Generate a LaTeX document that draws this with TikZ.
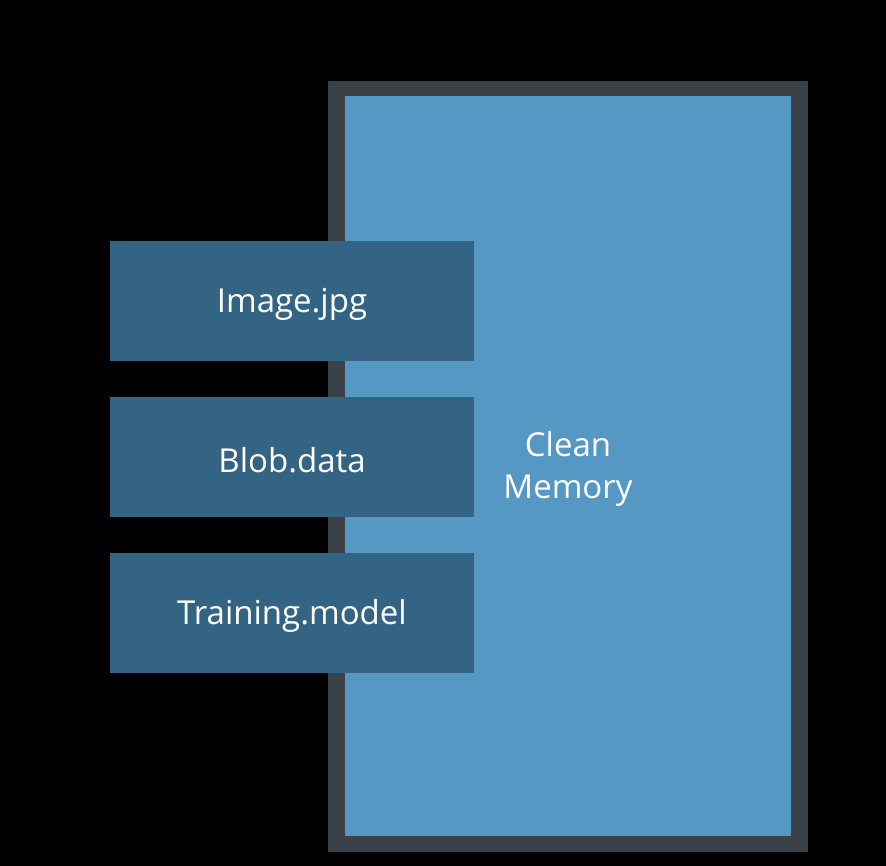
\documentclass[tikz,border=0pt]{standalone}
\usepackage{fontspec}
\setmainfont{Open Sans}
\definecolor{bordergray}{HTML}{3A4248}
\definecolor{memblue}{HTML}{5598C3}
\definecolor{filebox}{HTML}{346484}
\tikzset{
  filenode/.style={fill=filebox, draw=none, minimum width=364pt, minimum height=120pt, inner sep=0pt, text=white, font=\fontsize{33}{40}\selectfont},
}
\begin{document}
\begin{tikzpicture}[x=1pt,y=-1pt]
\fill[black] (0,0) rectangle (886,866);
\useasboundingbox (0,0) rectangle (886,866);
\fill[bordergray] (328,81) rectangle (808,852);
\fill[memblue] (345,96) rectangle (791,836);
\node[text=white, font=\fontsize{33}{42}\selectfont, align=center] (mem) at (568,469) {Clean\\Memory};
\fill[filebox] (110,241) rectangle (474,361);
\fill[filebox] (110,397) rectangle (474,517);
\fill[filebox] (110,553) rectangle (474,673);
\node[text=white, font=\fontsize{33}{40}\selectfont] (img) at (292,304) {Image.jpg};
\node[text=white, font=\fontsize{33}{40}\selectfont] (blob) at (292,460) {Blob.data};
\node[text=white, font=\fontsize{33}{40}\selectfont] (train) at (292,616) {Training.model};
\end{tikzpicture}
\end{document}
